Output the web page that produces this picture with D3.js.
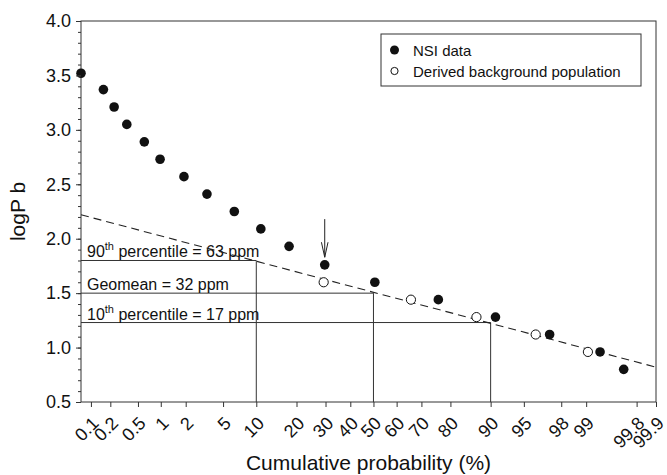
<!DOCTYPE html>
<html>
<head>
<meta charset="utf-8">
<script src="https://cdn.jsdelivr.net/npm/d3@7"></script>
<style>
  body { margin: 0; background: #fff; }
  svg { display: block; font-family: "Liberation Sans", Arial, sans-serif; }
  .axis path, .axis line { stroke: #333; }
  .axis text { fill: #111; font-size: 18px; }
</style>
</head>
<body>
<svg width="667" height="475"></svg>
<script>
// cumulative probability (%) and logP values
const nsiProb = [0.069, 0.157, 0.228, 0.349, 0.61, 0.98, 1.91, 3.43, 6.4, 10.9, 17.8, 29.7, 50.6, 76.1, 90.9, 97.3, 99.34, 99.69];
const nsiLogP = [3.52, 3.37, 3.21, 3.05, 2.89, 2.73, 2.57, 2.41, 2.25, 2.09, 1.93, 1.76, 1.60, 1.44, 1.28, 1.12, 0.96, 0.80];
const bgProb = [29.3, 65.9, 87.0, 96.2, 99.05];
const bgLogP = [1.60, 1.44, 1.28, 1.12, 0.96];
const fitProb = [0.069, 99.9];
const fitLogP = [2.22, 0.82];
const refProb = [10, 50, 90];
const refLogP = [1.80, 1.50, 1.23];
const refLabels = [["90", "th", " percentile = 63 ppm"], ["Geomean = 32 ppm", "", ""], ["10", "th", " percentile = 17 ppm"]];
const arrowProb = 29.7, arrowFrom = 2.18, arrowTo = 1.83;
const xTicks = [0.1, 0.2, 0.5, 1, 2, 5, 10, 20, 30, 40, 50, 60, 70, 80, 90, 95, 98, 99, 99.8, 99.9];
const yMajor = [0.5, 1.0, 1.5, 2.0, 2.5, 3.0, 3.5, 4.0];
const yMinor = d3.range(5, 41).map(d => d / 10);

// inverse normal cdf (Acklam)
function probit(p) {
    const a = [-39.69683028665376, 220.9460984245205, -275.9285104469687, 138.3577518672690, -30.66479806614716, 2.506628277459239];
    const b = [-54.47609879822406, 161.5858368580409, -155.6989798598866, 66.80131188771972, -13.28068155288572];
    const c = [-0.007784894002430293, -0.3223964580411365, -2.400758277161838, -2.549732539343734, 4.374664141464968, 2.938163982698783];
    const dd = [0.007784695709041462, 0.3224671290700398, 2.445134137142996, 3.754408661907416];
    const pl = 0.02425;
    let q, r;
    if (p < pl) {
        q = Math.sqrt(-2 * Math.log(p));
        return (((((c[0]*q+c[1])*q+c[2])*q+c[3])*q+c[4])*q+c[5]) / ((((dd[0]*q+dd[1])*q+dd[2])*q+dd[3])*q+1);
    } else if (p <= 1 - pl) {
        q = p - 0.5; r = q * q;
        return (((((a[0]*r+a[1])*r+a[2])*r+a[3])*r+a[4])*r+a[5])*q / (((((b[0]*r+b[1])*r+b[2])*r+b[3])*r+b[4])*r+1);
    }
    q = Math.sqrt(-2 * Math.log(1 - p));
    return -(((((c[0]*q+c[1])*q+c[2])*q+c[3])*q+c[4])*q+c[5]) / ((((dd[0]*q+dd[1])*q+dd[2])*q+dd[3])*q+1);
}

const svg = d3.select("svg"),
    margin = { top: 21, right: 11, bottom: 73, left: 81 },
    width = 667 - margin.left - margin.right,
    height = 475 - margin.top - margin.bottom,
    g = svg.append("g").attr("transform", `translate(${margin.left},${margin.top})`);

const z = d3.scaleLinear().domain([probit(0.00069), probit(0.999)]).range([0, width]);
const x = p => z(probit(p / 100));
const y = d3.scaleLinear().domain([0.5, 4.0]).range([height, 0]);

// frame
g.append("rect").attr("width", width).attr("height", height)
    .attr("fill", "none").attr("stroke", "#333").attr("stroke-width", 1);

// reference lines
refProb.forEach((p, i) => {
    g.append("path")
        .attr("d", `M0,${y(refLogP[i])}H${x(p)}V${height}`)
        .attr("fill", "none").attr("stroke", "#333").attr("stroke-width", 1);
    const t = g.append("text").attr("x", 6).attr("y", y(refLogP[i]) - 3)
        .attr("font-size", 16).attr("fill", "#111");
    t.append("tspan").text(refLabels[i][0]);
    if (refLabels[i][1]) {
        t.append("tspan").attr("font-size", 11).attr("dy", -7).text(refLabels[i][1]);
        t.append("tspan").attr("dy", 7).text(refLabels[i][2]);
    }
});

// fitted line
g.append("path")
    .attr("d", d3.line()(fitProb.map((p, i) => [x(p), y(fitLogP[i])])))
    .attr("fill", "none").attr("stroke", "#222").attr("stroke-width", 1.1)
    .attr("stroke-dasharray", "8,5");

// arrow
const ax = x(arrowProb);
g.append("path")
    .attr("d", `M${ax},${y(arrowFrom)}V${y(arrowTo)}M${ax - 3.3},${y(arrowTo) - 15}L${ax},${y(arrowTo)}L${ax + 3.3},${y(arrowTo) - 15}`)
    .attr("fill", "none").attr("stroke", "#222").attr("stroke-width", 1);

// points
g.selectAll(".bg").data(bgProb).enter().append("circle")
    .attr("cx", d => x(d)).attr("cy", (d, i) => y(bgLogP[i])).attr("r", 4.6)
    .attr("fill", "#fff").attr("stroke", "#111").attr("stroke-width", 1);
g.selectAll(".nsi").data(nsiProb).enter().append("circle")
    .attr("cx", d => x(d)).attr("cy", (d, i) => y(nsiLogP[i])).attr("r", 4.8)
    .attr("fill", "#111");

// axes
const yAxis = g.append("g").attr("class", "axis")
    .call(d3.axisLeft(y).tickValues(yMajor).tickSize(5).tickPadding(5).tickFormat(d3.format(".1f")));
yAxis.select(".domain").remove();
const yMin = g.append("g").attr("class", "axis")
    .call(d3.axisLeft(y).tickValues(yMinor).tickSize(3).tickFormat(""));
yMin.select(".domain").remove();

const xAxis = g.append("g").attr("class", "axis").attr("transform", `translate(0,${height})`)
    .call(d3.axisBottom(z).tickValues(xTicks.map(p => probit(p / 100))).tickSize(5)
        .tickFormat((d, i) => xTicks[i]));
xAxis.select(".domain").remove();
xAxis.selectAll("text")
    .attr("y", 0).attr("dy", "0.35em")
    .attr("text-anchor", "end")
    .attr("transform", "translate(4,18) rotate(-45)");

// titles
svg.append("text").attr("x", margin.left + width / 2).attr("y", 470)
    .attr("text-anchor", "middle").attr("font-size", 21).attr("fill", "#111")
    .text("Cumulative probability (%)");
svg.append("text").attr("transform", `translate(25,${margin.top + height / 2}) rotate(-90)`)
    .attr("text-anchor", "middle").attr("font-size", 21).attr("fill", "#111")
    .text("logP b");

// legend
const lg = svg.append("g").attr("transform", "translate(381,34)");
lg.append("rect").attr("width", 260).attr("height", 52)
    .attr("fill", "#fff").attr("stroke", "#333").attr("stroke-width", 1);
lg.append("circle").attr("cx", 13.5).attr("cy", 16).attr("r", 4.5).attr("fill", "#111");
lg.append("circle").attr("cx", 13.5).attr("cy", 37).attr("r", 3.6)
    .attr("fill", "#fff").attr("stroke", "#111").attr("stroke-width", 1);
lg.append("text").attr("x", 32).attr("y", 21.5).attr("font-size", 15).attr("fill", "#111").text("NSI data");
lg.append("text").attr("x", 32).attr("y", 42.5).attr("font-size", 15).attr("fill", "#111").text("Derived background population");
</script>
</body>
</html>
